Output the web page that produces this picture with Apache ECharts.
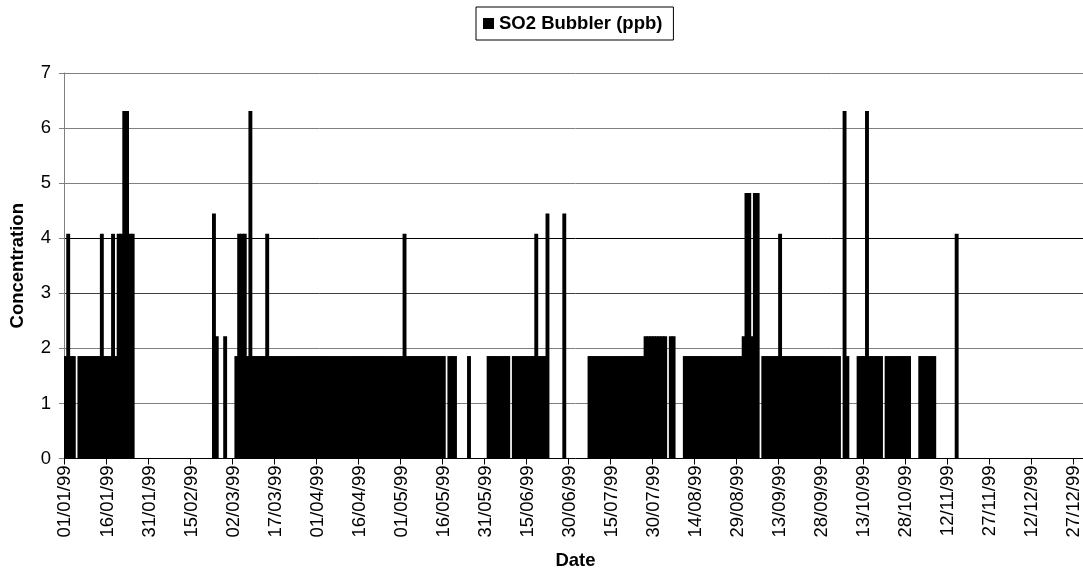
<!DOCTYPE html>
<html>
<head>
<meta charset="utf-8">
<script src="https://cdn.jsdelivr.net/npm/echarts@6/dist/echarts.min.js"></script>
<style>
  html, body { margin: 0; padding: 0; background: #ffffff; overflow: hidden; width: 1083px; height: 576px; }
  #chart { width: 1092px; height: 576px; }
</style>
</head>
<body>
<div id="chart"></div>
<script>
// Daily SO2 bubbler concentrations (ppb), 1999; null = no sample
const jan = [1.86,4.08,1.86,1.86,null,1.86,1.86,1.86,1.86,1.86,1.86,1.86,1.86,4.08,1.86,1.86,1.86,4.08,1.86,4.08,4.08,6.31,6.31,4.08,4.08,null,null,null,null,null,null];
const feb = [null,null,null,null,null,null,null,null,null,null,null,null,null,null,null,null,null,null,null,null,null,null,4.45,2.22,null,null,2.22,null];
const mar = [null,null,1.86,4.08,4.08,4.08,1.86,6.31,1.86,1.86,1.86,1.86,1.86,4.08,1.86,1.86,1.86,1.86,1.86,1.86,1.86,1.86,1.86,1.86,1.86,1.86,1.86,1.86,1.86,1.86,1.86];
const apr = [1.86,1.86,1.86,1.86,1.86,1.86,1.86,1.86,1.86,1.86,1.86,1.86,1.86,1.86,1.86,1.86,1.86,1.86,1.86,1.86,1.86,1.86,1.86,1.86,1.86,1.86,1.86,1.86,1.86,1.86];
const may = [1.86,4.08,1.86,1.86,1.86,1.86,1.86,1.86,1.86,1.86,1.86,1.86,1.86,1.86,1.86,1.86,null,1.86,1.86,1.86,null,null,null,null,1.86,null,null,null,null,null,null];
const jun = [1.86,1.86,1.86,1.86,1.86,1.86,1.86,1.86,null,1.86,1.86,1.86,1.86,1.86,1.86,1.86,1.86,4.08,1.86,1.86,1.86,4.45,null,null,null,null,null,4.45,null,null];
const jul = [null,null,null,null,null,null,1.86,1.86,1.86,1.86,1.86,1.86,1.86,1.86,1.86,1.86,1.86,1.86,1.86,1.86,1.86,1.86,1.86,1.86,1.86,1.86,2.22,2.22,2.22,2.22,2.22];
const aug = [2.22,2.22,2.22,null,2.22,2.22,null,null,null,1.86,1.86,1.86,1.86,1.86,1.86,1.86,1.86,1.86,1.86,1.86,1.86,1.86,1.86,1.86,1.86,1.86,1.86,1.86,1.86,1.86,2.22];
const sep = [4.82,4.82,2.22,4.82,4.82,null,1.86,1.86,1.86,1.86,1.86,1.86,4.08,1.86,1.86,1.86,1.86,1.86,1.86,1.86,1.86,1.86,1.86,1.86,1.86,1.86,1.86,1.86,1.86,1.86];
const oct = [1.86,1.86,1.86,1.86,null,6.31,1.86,null,null,null,1.86,1.86,1.86,6.31,1.86,1.86,1.86,1.86,1.86,null,1.86,1.86,1.86,1.86,1.86,1.86,1.86,1.86,1.86,null,null];
const nov = [null,1.86,1.86,1.86,1.86,1.86,1.86,null,null,null,null,null,null,null,4.08,null,null,null,null,null,null,null,null,null,null,null,null,null,null,null];
const dec = [null,null,null,null,null,null,null,null,null,null,null,null,null,null,null,null,null,null,null,null,null,null,null,null,null,null,null,null,null,null,null];

const months = [jan, feb, mar, apr, may, jun, jul, aug, sep, oct, nov, dec];
const yearSuffix = '99';
const seriesName = 'SO2 Bubbler (ppb)';
const yTitle = 'Concentration';
const xTitle = 'Date';

// Category labels dd/mm/yy, one per day
const categories = [];
const values = [];
months.forEach((arr, mi) => {
  arr.forEach((v, di) => {
    const dd = String(di + 1).padStart(2, '0');
    const mm = String(mi + 1).padStart(2, '0');
    categories.push(dd + '/' + mm + '/' + yearSuffix);
    values.push(v);
  });
});

const FONT = 'Liberation Sans, Arial, sans-serif';
const chart = echarts.init(document.getElementById('chart'), null, { renderer: 'canvas' });
chart.setOption({
  animation: false,
  backgroundColor: '#ffffff',
  textStyle: { fontFamily: FONT },
  legend: {
    data: [seriesName],
    left: 476,
    top: 7,
    orient: 'horizontal',
    icon: 'rect',
    itemWidth: 11,
    itemHeight: 11,
    padding: [7, 11, 7, 7],
    borderColor: '#000000',
    borderWidth: 1,
    textStyle: { fontFamily: FONT, fontSize: 18.5, fontWeight: 'bold', color: '#000000' }
  },
  grid: { left: 63, top: 73, width: 1024, height: 385.5, containLabel: false },
  xAxis: {
    type: 'category',
    data: categories,
    boundaryGap: true,
    name: xTitle,
    nameLocation: 'middle',
    nameGap: 93,
    nameTextStyle: { fontFamily: FONT, fontSize: 18.5, fontWeight: 'bold', color: '#000000' },
    axisLine: { lineStyle: { color: '#000000', width: 1 } },
    axisTick: { show: true, interval: 14, length: 6, lineStyle: { color: '#000000' } },
    axisLabel: { interval: 14, rotate: 90, margin: 7, fontFamily: FONT, fontSize: 18.5, color: '#000000' },
    splitLine: { show: false }
  },
  yAxis: {
    type: 'value',
    min: 0,
    max: 7,
    interval: 1,
    name: yTitle,
    nameLocation: 'middle',
    nameGap: 37,
    nameTextStyle: { fontFamily: FONT, fontSize: 18.5, fontWeight: 'bold', color: '#000000' },
    axisLine: { show: true, lineStyle: { color: '#808080', width: 1 } },
    axisTick: { show: true, length: 5, lineStyle: { color: '#808080' } },
    axisLabel: { margin: 13, fontFamily: FONT, fontSize: 18.5, color: '#000000' },
    splitLine: { show: true, lineStyle: { color: ['#808080','#808080','#808080','#404040','#000000','#808080','#808080','#808080'], width: 1 } }
  },
  series: [{
    name: seriesName,
    type: 'bar',
    data: values,
    barWidth: 3.9,
    itemStyle: { color: '#000000', borderWidth: 0 },
    emphasis: { disabled: true }
  }]
});
</script>
</body>
</html>
